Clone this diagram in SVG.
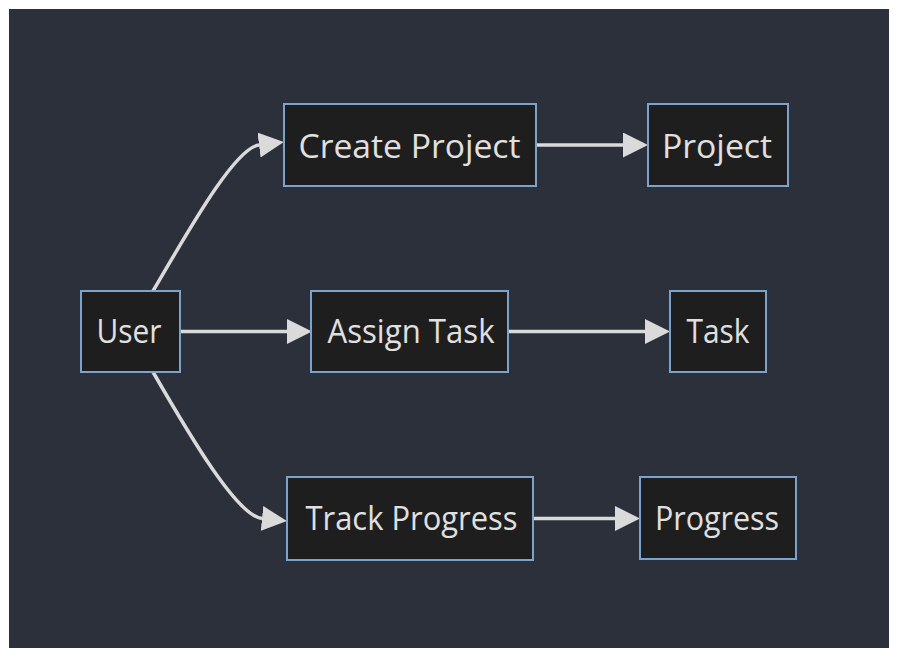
<svg xmlns="http://www.w3.org/2000/svg" width="898" height="654" viewBox="0 0 898 654">
<style>
.node rect{fill:#1e1e1e;stroke:#7ba3cc;stroke-width:2}
.node text{font-family:"Open Sans","DejaVu Sans",sans-serif;font-size:33px;fill:#e0e0e0;text-anchor:middle}
.edge{fill:none;stroke:#dadada;stroke-width:3.5}
</style>
<defs>
<marker id="arrow" markerUnits="userSpaceOnUse" markerWidth="26" markerHeight="26" refX="0" refY="12.5" orient="auto" viewBox="0 0 26 26">
<path d="M0,0 L25,12.5 L0,25 Z" fill="#dadada"/>
</marker>
</defs>
<rect x="0" y="0" width="898" height="654" fill="#ffffff"/>
<rect x="9" y="9" width="880" height="639" fill="#2b303b"/>
<g id="connectors">
<path class="edge" d="M153,291 C190,228 235,148 259,145" marker-end="url(#arrow)"/>
<path class="edge" d="M180,331.5 L287,331.5" marker-end="url(#arrow)"/>
<path class="edge" d="M153,372 C190,436 237,516 262,518.5" marker-end="url(#arrow)"/>
<path class="edge" d="M536,145 L623,145" marker-end="url(#arrow)"/>
<path class="edge" d="M508,331.5 L645,331.5" marker-end="url(#arrow)"/>
<path class="edge" d="M533,518.5 L615,518.5" marker-end="url(#arrow)"/>
</g>
<g id="user" class="node"><rect x="81" y="291" width="99" height="81"/><text x="129" y="343" textLength="65" lengthAdjust="spacingAndGlyphs">User</text></g>
<g id="create-project" class="node"><rect x="284" y="104" width="252" height="82"/><text x="409.5" y="158" textLength="222" lengthAdjust="spacingAndGlyphs">Create Project</text></g>
<g id="assign-task" class="node"><rect x="311" y="291" width="197" height="81"/><text x="411" y="343" textLength="167" lengthAdjust="spacingAndGlyphs">Assign Task</text></g>
<g id="track-progress" class="node"><rect x="287" y="477" width="246" height="83"/><text x="411.5" y="530" textLength="212" lengthAdjust="spacingAndGlyphs">Track Progress</text></g>
<g id="project" class="node"><rect x="648" y="104" width="140" height="82"/><text x="717" y="157.5" textLength="110" lengthAdjust="spacingAndGlyphs">Project</text></g>
<g id="task" class="node"><rect x="670" y="291" width="96" height="81"/><text x="718" y="343" textLength="63" lengthAdjust="spacingAndGlyphs">Task</text></g>
<g id="progress" class="node"><rect x="640" y="477" width="156" height="82"/><text x="717" y="530" textLength="124" lengthAdjust="spacingAndGlyphs">Progress</text></g>
</svg>
